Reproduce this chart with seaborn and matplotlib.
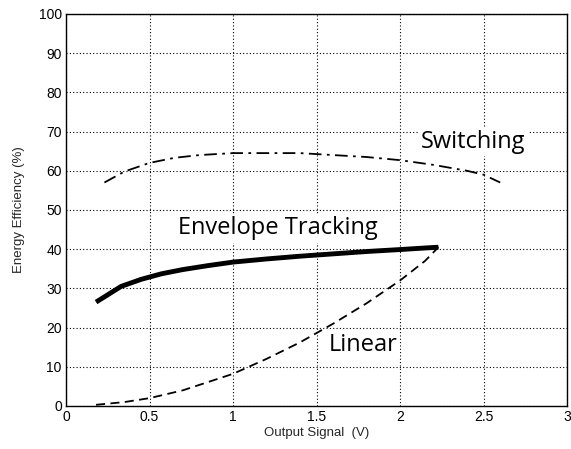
import matplotlib
matplotlib.use("Agg")
import matplotlib.pyplot as plt
import seaborn as sns
import pandas as pd

sns.set_theme(style="white")
plt.rcParams['font.family'] = ['Liberation Sans', 'DejaVu Sans']

# Data
sw_x = [0.23, 0.35, 0.5, 0.65, 0.8, 1.0, 1.2, 1.4, 1.6, 1.8, 2.0, 2.2, 2.4, 2.5, 2.6]
sw_y = [57.0, 59.8, 62.0, 63.3, 64.0, 64.5, 64.5, 64.5, 64.0, 63.5, 62.7, 61.5, 60.0, 59.0, 57.0]

et_x = [0.18, 0.33, 0.45, 0.57, 0.7, 0.85, 1.0, 1.2, 1.4, 1.6, 1.8, 2.0, 2.15, 2.23]
et_y = [26.5, 30.5, 32.3, 33.7, 34.8, 35.8, 36.7, 37.5, 38.2, 38.8, 39.4, 39.9, 40.3, 40.5]

li_x = [0.18, 0.35, 0.5, 0.7, 0.9, 1.0, 1.2, 1.4, 1.6, 1.8, 2.0, 2.15, 2.23]
li_y = [0.3, 1.0, 2.0, 4.0, 6.8, 8.2, 12.0, 16.2, 21.0, 26.2, 32.0, 37.0, 40.5]

labels = ["Switching", "Envelope Tracking", "Linear"]
label_x = [2.44, 1.27, 1.78]
label_y = [67.3, 45.3, 15.6]

df_sw = pd.DataFrame({"x": sw_x, "y": sw_y})
df_et = pd.DataFrame({"x": et_x, "y": et_y})
df_li = pd.DataFrame({"x": li_x, "y": li_y})

fig = plt.figure(figsize=(5.71, 4.49), dpi=100)
ax = fig.add_axes([0.1156, 0.0958, 0.8774, 0.8732])

sns.lineplot(data=df_sw, x="x", y="y", ax=ax, color="black", lw=1.3,
             linestyle=(0, (7, 3, 1.5, 3)), sort=False)
sns.lineplot(data=df_et, x="x", y="y", ax=ax, color="black", lw=3.5, sort=False,
             solid_capstyle="butt")
sns.lineplot(data=df_li, x="x", y="y", ax=ax, color="black", lw=1.3,
             linestyle=(0, (5, 3)), sort=False)

for t, x, y in zip(labels, label_x, label_y):
    ax.text(x, y, t, ha="center", va="center", fontsize=17,
            family=["Open Sans", "DejaVu Sans"], color="black",
            bbox=dict(facecolor="white", edgecolor="none", pad=1.5))

ax.set_xlim(0, 3)
ax.set_ylim(0, 100)
ax.set_xticks([0, 0.5, 1, 1.5, 2, 2.5, 3])
ax.set_xticklabels(["0", "0.5", "1", "1.5", "2", "2.5", "3"])
ax.set_yticks(range(0, 101, 10))
ax.grid(True, color="black", linestyle=(0, (1, 2)), lw=0.8)
ax.tick_params(direction="in", length=4, labelsize=10, colors="black", pad=3)
for s in ax.spines.values():
    s.set_color("black")
    s.set_linewidth(1.0)
ax.set_xlabel("Output Signal  (V)", fontsize=9.5, labelpad=2)
ax.set_ylabel("Energy Efficiency (%)", fontsize=9.5, labelpad=10)

fig.savefig("out.png", dpi=100)
